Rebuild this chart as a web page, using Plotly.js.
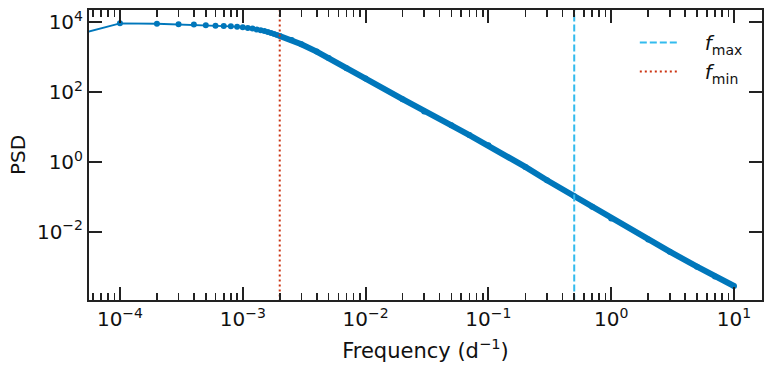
<!DOCTYPE html>
<html>
<head>
<meta charset="utf-8">
<script src="https://cdn.plot.ly/plotly-3.0.1.min.js"></script>
<style>
  html, body { margin: 0; padding: 0; background: #fff; }
  #chart { width: 775px; height: 375px; }
</style>
</head>
<body>
<div id="chart"></div>
<script>
// Frequencies (d^-1) and PSD values
const freq = [5e-5, 1e-4, 2e-4, 3e-4, 4e-4, 5e-4, 6e-4, 7e-4, 8e-4, 9e-4, 1e-3,
  1.1e-3, 1.2e-3, 1.3e-3, 1.4e-3, 1.5e-3, 1.6e-3, 1.7e-3, 1.8e-3, 1.9e-3, 2e-3,
  2.5e-3, 3e-3, 4e-3, 5e-3, 7e-3, 1e-2, 2e-2, 3e-2, 5e-2, 7e-2, 0.1, 0.2, 0.3,
  0.5, 0.7, 1, 2, 3, 5, 7, 10];
const psd = [4930, 9360, 9110, 8770, 8650, 8200, 8000, 7830, 7680, 7480, 7180,
  6900, 6600, 6250, 5900, 5600, 5250, 4950, 4650, 4350, 4050,
  3100, 2350, 1450, 955, 480, 245, 63, 28, 11.2, 5.9, 3.0, 0.72, 0.30,
  0.105, 0.052, 0.024, 0.006, 0.0027, 1.0e-3, 5.2e-4, 2.8e-4];
const fMax = 0.5;
const fMin = 0.002;
const xTickVals = [1e-4, 1e-3, 1e-2, 1e-1, 1, 10];
const xTickText = ['10<sup>\u22124</sup>', '10<sup>\u22123</sup>', '10<sup>\u22122</sup>',
  '10<sup>\u22121</sup>', '10<sup>0</sup>', '10<sup>1</sup>'];
const yTickVals = [1e-2, 1, 1e2, 1e4];
const yTickText = ['10<sup>\u22122</sup>', '10<sup>0</sup>', '10<sup>2</sup>', '10<sup>4</sup>'];

const curveColor = '#0077BB';
const denseF = freq.filter(f => f >= fMin);
const denseP = psd.filter((p, i) => freq[i] >= fMin);
const FONT = 'DejaVu Sans';

const traces = [
  { x: freq, y: psd, mode: 'lines+markers', showlegend: false, hoverinfo: 'skip',
    line: { color: curveColor, width: 1.8 }, marker: { color: curveColor, size: 6 } },
  { x: denseF, y: denseP, mode: 'lines', showlegend: false, hoverinfo: 'skip',
    line: { color: curveColor, width: 6 } },
  { x: [fMax, fMax], y: [1e-6, 1e6], mode: 'lines', name: '\u2002\u2002<i>f</i><sub>max</sub>',
    legendgroup: 'a', line: { color: '#33BBEE', width: 2, dash: '7px,3px' } },
  { x: [fMin, fMin], y: [1e-6, 1e6], mode: 'lines', name: '\u2002\u2002<i>f</i><sub>min</sub>',
    legendgroup: 'b', line: { color: '#CC3311', width: 2, dash: '2px,3px' } }
];

const axisCommon = {
  type: 'log', showgrid: false, zeroline: false, showline: true, mirror: 'ticks',
  linecolor: '#222', linewidth: 2, ticks: 'inside', ticklen: 13, tickwidth: 2,
  tickcolor: '#222', tickfont: { family: FONT, size: 20, color: '#111' }
};

const layout = {
  width: 775, height: 375,
  margin: { l: 89, r: 13, t: 10, b: 75 },
  paper_bgcolor: '#fff', plot_bgcolor: '#fff',
  font: { family: FONT, size: 20, color: '#111' },
  showlegend: true,
  legend: { x: 0.811, xanchor: 'left', y: 0.955, yanchor: 'top', bgcolor: 'rgba(0,0,0,0)',
    font: { family: FONT, size: 20, color: '#111' }, tracegroupgap: 0, itemwidth: 40 },
  xaxis: Object.assign({}, axisCommon, {
    range: [-4.252, 1.228], tickmode: 'array', tickvals: xTickVals, ticktext: xTickText,
    minor: { ticks: 'inside', ticklen: 7, tickwidth: 1.6, tickcolor: '#222', dtick: 'D1', showgrid: false },
    title: { text: 'Frequency (d<sup>\u22121</sup>)', standoff: 13,
      font: { family: FONT, size: 21, color: '#111' } }
  }),
  yaxis: Object.assign({}, axisCommon, {
    range: [-3.954, 4.353], tickmode: 'array', tickvals: yTickVals, ticktext: yTickText,
    title: { text: 'PSD', standoff: 6, font: { family: FONT, size: 20, color: '#111' } }
  })
};

Plotly.newPlot('chart', traces, layout, { displayModeBar: false, staticPlot: true });
</script>
</body>
</html>
